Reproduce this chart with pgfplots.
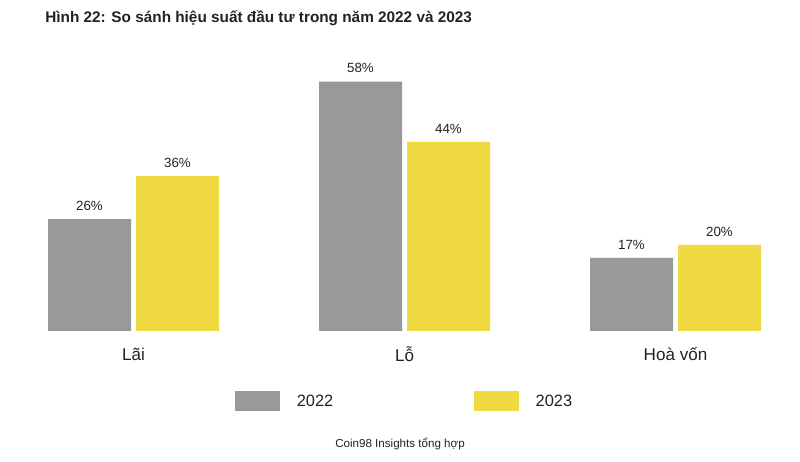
\documentclass[border=0pt]{standalone}
\usepackage{pgfplots}
\pgfplotsset{compat=1.18}
\usepackage{fontspec}
\setmainfont{Liberation Sans}
\definecolor{cgray}{HTML}{999999}
\definecolor{cyellow}{HTML}{F0DA42}
\definecolor{ctext}{HTML}{222222}
\begin{document}
\begin{tikzpicture}
\begin{axis}[
  name=ax,
  scale only axis,
  width=600pt, height=346.5pt,
  xmin=-0.49262, xmax=2.45941,
  ymin=-30.465, ymax=76.977,
  axis line style={draw=none},
  clip=false,
  ybar, bar width=62.25pt,
  xtick={0,1,2},
  xticklabels={Lãi,Lỗ,Hoà vốn},
  tick style={draw=none},
  ytick=\empty,
  /pgf/number format/assume math mode=true,
  xticklabel style={font=\fontsize{12.8}{14}\selectfont, text=ctext, anchor=center, yshift=85pt},
  nodes near coords={\pgfmathprintnumber{\pgfplotspointmeta}\%},
  nodes near coords style={font=\fontsize{10}{11}\selectfont, text=ctext, anchor=south, yshift=3pt},
  legend style={draw=none, fill=none, at={(rel axis cs:0.515,0.131)}, anchor=center,
    legend columns=2, font=\fontsize{12.3}{14}\selectfont, text=ctext,
    /tikz/every even column/.append style={column sep=93pt},
    nodes={inner xsep=12.5pt}},
  legend image code/.code={\fill[#1] (0pt,-7.5pt) rectangle (33.75pt,7.5pt);},
]
\addplot[fill=cgray, draw=none, bar shift=-33pt] coordinates {(0,26) (1,58) (2,17)};
\addplot[fill=cyellow, draw=none, bar shift=33pt] coordinates {(0,36) (1,44) (2,20)};
\legend{2022,2023}
\node[anchor=west, inner sep=0pt, font=\bfseries\fontsize{11.5}{14}\selectfont, text=ctext] at (rel axis cs:0.0563,0.9610) {Hình 22: So sánh hiệu suất đầu tư trong năm 2022 và 2023};
\node[anchor=center, font=\fontsize{8.7}{10}\selectfont, text=ctext] at (rel axis cs:0.5,0.038) {Coin98 Insights tổng hợp};
\end{axis}
\pgfresetboundingbox
\path[use as bounding box] (ax.south west) rectangle (ax.north east);
\end{tikzpicture}
\end{document}
